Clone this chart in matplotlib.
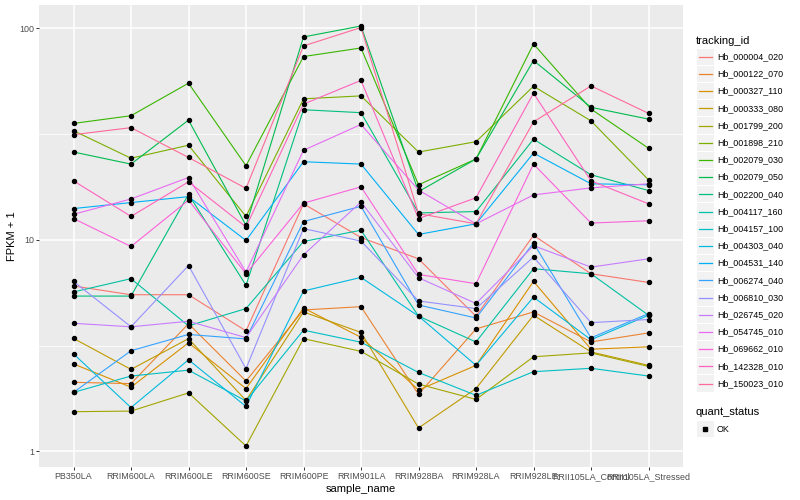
import numpy as np
import matplotlib
matplotlib.use('Agg')
import matplotlib.pyplot as plt
from matplotlib.patches import Rectangle

plt.rcParams['font.family'] = ['Liberation Sans', 'DejaVu Sans']

# sample order on the x axis
samples = ['PB350LA', 'RRIM600LA', 'RRIM600LE', 'RRIM600SE', 'RRIM600PE', 'RRIM901LA',
           'RRIM928BA', 'RRIM928LA', 'RRIM928LE', 'RRII105LA_Control', 'RRII105LA_Stressed']

# FPKM + 1 per gene, same order as samples
hb_000004_020 = [6.05, 5.50, 5.50, 3.71, 14.8, 10.25, 8.13, 4.35, 10.5, 6.91, 6.29]
hb_000122_070 = [2.12, 2.09, 4.01, 2.15, 4.66, 4.83, 1.86, 3.79, 4.56, 3.29, 3.63]
hb_000327_110 = [2.59, 2.01, 3.26, 1.98, 4.76, 3.46, 1.95, 2.55, 6.36, 3.04, 3.12]
hb_000333_080 = [3.42, 2.44, 3.41, 1.74, 4.56, 3.65, 1.29, 1.98, 4.40, 2.95, 2.55]
hb_001799_200 = [1.54, 1.55, 1.89, 1.06, 3.41, 2.97, 2.08, 1.76, 2.80, 2.92, 2.52]
hb_001898_210 = [32.8, 24.3, 28.0, 12.9, 46.4, 47.9, 26.0, 29.1, 53.2, 36.5, 19.2]
hb_002079_030 = [35.5, 38.6, 55.0, 22.4, 73.5, 80.7, 18.2, 24.1, 84.3, 41.5, 27.1]
hb_002079_050 = [26.0, 22.8, 36.8, 11.7, 91.0, 102.5, 16.9, 24.1, 70.4, 42.3, 37.2]
hb_002200_040 = [5.42, 5.42, 16.4, 6.09, 41.2, 39.9, 13.4, 13.6, 29.9, 20.3, 17.1]
hb_004117_160 = [5.67, 6.55, 3.92, 4.73, 9.82, 11.1, 4.36, 3.29, 7.30, 6.91, 4.40]
hb_004157_100 = [1.90, 2.27, 2.42, 1.73, 3.74, 3.28, 2.36, 1.84, 2.38, 2.47, 2.27]
hb_004303_040 = [2.89, 1.61, 2.71, 1.63, 5.73, 6.64, 4.36, 2.55, 5.36, 3.37, 4.40]
hb_004531_140 = [14.05, 15.0, 16.0, 9.93, 23.4, 22.8, 10.6, 11.9, 25.7, 18.4, 18.2]
hb_006274_040 = [1.90, 2.99, 3.57, 3.40, 12.2, 14.4, 4.92, 4.27, 9.66, 3.44, 4.48]
hb_006810_030 = [6.36, 3.88, 7.56, 2.46, 11.3, 9.86, 5.14, 4.73, 8.29, 4.06, 4.20]
hb_026745_020 = [4.03, 3.88, 4.12, 3.45, 8.49, 15.1, 6.62, 5.00, 9.38, 7.43, 8.13]
hb_054745_010 = [13.2, 15.6, 19.7, 7.04, 26.5, 35.1, 17.2, 11.9, 16.3, 17.6, 18.4]
hb_069662_010 = [12.6, 9.3, 15.4, 6.91, 14.9, 17.8, 6.86, 6.2, 22.8, 12.0, 12.3]
hb_142328_010 = [19.0, 12.9, 18.8, 11.5, 43.8, 56.7, 12.6, 15.8, 49.3, 19.0, 14.8]
hb_150023_010 = [31.4, 33.9, 24.5, 17.5, 82.5, 100.8, 13.3, 11.9, 36.1, 53.4, 39.6]

ids = ['Hb_000004_020', 'Hb_000122_070', 'Hb_000327_110', 'Hb_000333_080', 'Hb_001799_200',
       'Hb_001898_210', 'Hb_002079_030', 'Hb_002079_050', 'Hb_002200_040', 'Hb_004117_160',
       'Hb_004157_100', 'Hb_004303_040', 'Hb_004531_140', 'Hb_006274_040', 'Hb_006810_030',
       'Hb_026745_020', 'Hb_054745_010', 'Hb_069662_010', 'Hb_142328_010', 'Hb_150023_010']
series = [hb_000004_020, hb_000122_070, hb_000327_110, hb_000333_080, hb_001799_200,
          hb_001898_210, hb_002079_030, hb_002079_050, hb_002200_040, hb_004117_160,
          hb_004157_100, hb_004303_040, hb_004531_140, hb_006274_040, hb_006810_030,
          hb_026745_020, hb_054745_010, hb_069662_010, hb_142328_010, hb_150023_010]
status = ['OK']


def hcl(h, c=100.0, l=65.0):
    # polar LUV -> sRGB, like ggplot's hue palette
    h = np.radians(h)
    U, V = c * np.cos(h), c * np.sin(h)
    Xn, Yn, Zn = 95.047, 100.0, 108.883
    un = 4 * Xn / (Xn + 15 * Yn + 3 * Zn)
    vn = 9 * Yn / (Xn + 15 * Yn + 3 * Zn)
    Y = Yn * ((l + 16) / 116) ** 3
    u = U / (13 * l) + un
    v = V / (13 * l) + vn
    X = 9 * Y * u / (4 * v)
    Z = 3 * Y / v - X / 3 - 5 * Y
    X, Y, Z = X / 100, Y / 100, Z / 100
    rgb = [3.240479 * X - 1.537150 * Y - 0.498535 * Z,
           -0.969256 * X + 1.875992 * Y + 0.041556 * Z,
           0.055648 * X - 0.204043 * Y + 1.057311 * Z]
    out = []
    for ch in rgb:
        ch = 12.92 * ch if ch <= 0.0031308 else 1.055 * ch ** (1 / 2.4) - 0.055
        out.append(min(max(ch, 0), 1))
    return tuple(out)


n = len(ids)
hues = np.linspace(15, 375, n + 1)[:n]
colors = [hcl(h) for h in hues]

fig = plt.figure(figsize=(8, 5), dpi=100)
ax = fig.add_axes([39 / 800, 1 - 467 / 500, 644 / 800, 462 / 500])
ax.set_facecolor('#EBEBEB')
for s in ax.spines.values():
    s.set_visible(False)

x = np.arange(len(samples))
for vals, col in zip(series, colors):
    ax.plot(x, vals, color=col, lw=0.8, zorder=2)
for vals in series:
    ax.plot(x, vals, 'o', color='black', ms=2.9, zorder=3)

ax.set_yscale('log')
lo = np.log10(min(min(v) for v in series))
hi = np.log10(max(max(v) for v in series))
pad = 0.05 * (hi - lo)
ax.set_ylim(10 ** (lo - pad), 10 ** (hi + pad))
ax.set_xlim(-0.6, len(samples) - 0.4)

ax.set_yticks([1, 10, 100])
ax.set_yticklabels(['1', '10', '100'])
ax.set_yticks([10 ** 0.5, 10 ** 1.5], minor=True)
ax.set_yticklabels([], minor=True)
ax.set_xticks(x)
ax.set_xticklabels(samples)
ax.tick_params(which='major', length=2.2, width=0.7, color='#333333',
               labelsize=6.4, labelcolor='#4D4D4D', pad=1.5)
ax.tick_params(which='minor', length=0)
ax.grid(which='major', color='white', lw=1.1)
ax.grid(which='minor', axis='y', color='white', lw=0.55)
ax.set_axisbelow(True)

ax.set_xlabel('sample_name', fontsize=8, labelpad=2)
ax.set_ylabel('FPKM + 1', fontsize=8, labelpad=1)

# legend drawn in pixel coordinates, ggplot style
lax = fig.add_axes([0, 0, 1, 1], facecolor='none')
lax.set_xlim(0, 800)
lax.set_ylim(500, 0)
lax.axis('off')

lax.text(696, 40.5, 'tracking_id', fontsize=8, va='center', ha='left')
step = 17.2
for i, (name, col) in enumerate(zip(ids, colors)):
    yc = 56.7 + i * step
    lax.add_patch(Rectangle((697, yc - step / 2 + 0.5), 16.5, step - 1,
                            facecolor='#F2F2F2', edgecolor='none'))
    lax.plot([698.5, 711.5], [yc, yc], color=col, lw=0.9)
    lax.text(717, yc, name, fontsize=6.4, va='center', ha='left')

lax.text(696, 412, 'quant_status', fontsize=8, va='center', ha='left')
for j, st in enumerate(status):
    yc = 429 + j * step
    lax.add_patch(Rectangle((697, yc - step / 2 + 0.5), 16.5, step - 1,
                            facecolor='#F2F2F2', edgecolor='none'))
    lax.plot([705], [yc], 's', color='black', ms=2.4)
    lax.text(717, yc, st, fontsize=6.4, va='center', ha='left')

fig.savefig('out.png', dpi=100)
